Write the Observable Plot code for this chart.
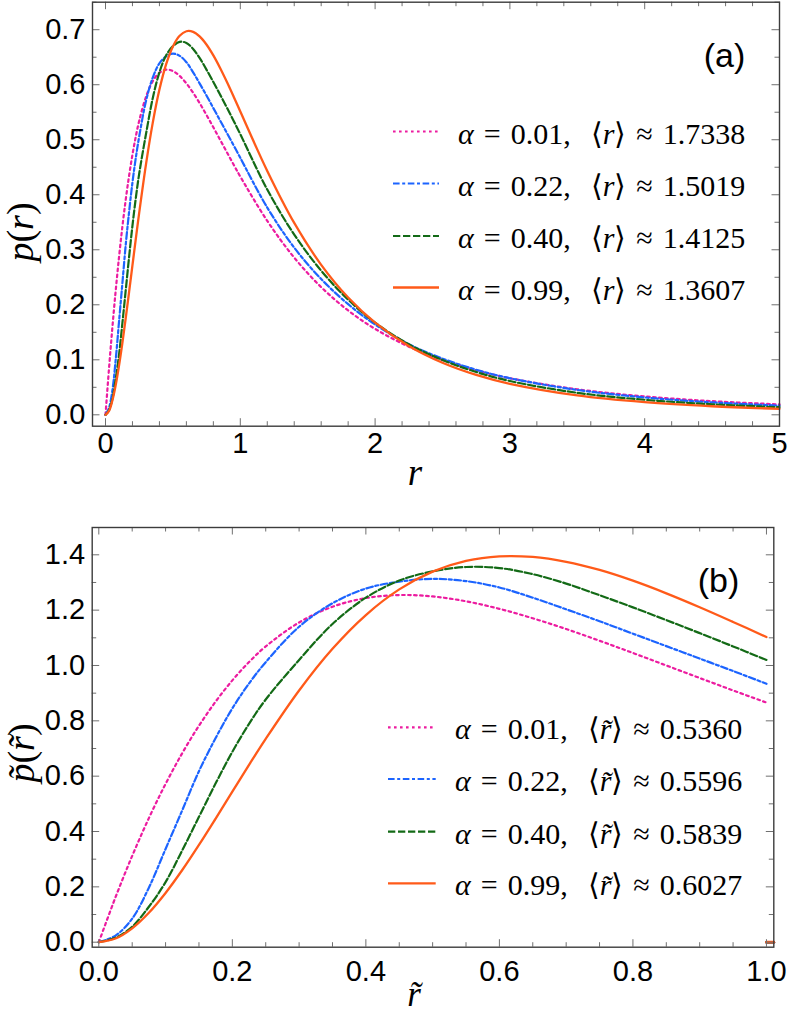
<!DOCTYPE html>
<html>
<head>
<meta charset="utf-8">
<script src="https://cdn.jsdelivr.net/npm/d3@7"></script>
<script src="https://cdn.jsdelivr.net/npm/@observablehq/plot@0.6"></script>
<style>
  html, body { margin: 0; padding: 0; background: #fff; }
  #wrap { position: relative; width: 789px; height: 1013px; overflow: hidden; }
  #wrap > .pnl { position: absolute; left: 0; }
  #overlay { position: absolute; left: 0; top: 0; pointer-events: none; }
</style>
</head>
<body>
<div id="wrap"></div>
<script>
// ---------------- data ----------------
const alphas = ["0.01", "0.22", "0.40", "0.99"];
const meanR = ["1.7338", "1.5019", "1.4125", "1.3607"];
const meanRt = ["0.5360", "0.5596", "0.5839", "0.6027"];

// panel (a): r grid and p(r) for each alpha
const rA = [0, 0.025, 0.05, 0.075, 0.1, 0.125, 0.15, 0.175, 0.2, 0.225, 0.25, 0.3, 0.35, 0.4, 0.45, 0.5, 0.55, 0.6, 0.65, 0.7, 0.75, 0.8, 0.85, 0.9, 0.95, 1.0, 1.2, 1.4, 1.6, 1.8, 2.0, 2.25, 2.5, 2.75, 3.0, 3.5, 4.0, 4.5, 5.0];
const pA_001 = [0, 0.0812, 0.1559, 0.2242, 0.2860, 0.3416, 0.3911, 0.4348, 0.4731, 0.5062, 0.5344, 0.5778, 0.6061, 0.6218, 0.6273, 0.6248, 0.6160, 0.6024, 0.5853, 0.5659, 0.5447, 0.5226, 0.5000, 0.4774, 0.4549, 0.4330, 0.3525, 0.2857, 0.2321, 0.1897, 0.1562, 0.1239, 0.0995, 0.0809, 0.0665, 0.0463, 0.0334, 0.0248, 0.0189];
const pA_022 = [0, 0.012, 0.0425, 0.0985, 0.1685, 0.2385, 0.309, 0.369, 0.4225, 0.4675, 0.506, 0.570, 0.6125, 0.639, 0.6515, 0.6565, 0.6525, 0.641, 0.6225, 0.6015, 0.580, 0.5575, 0.535, 0.5125, 0.490, 0.467, 0.3767, 0.3038, 0.2468, 0.2011, 0.1641, 0.1284, 0.1022, 0.0819, 0.0665, 0.0452, 0.0316, 0.0226, 0.0167];
const pA_040 = [0, 0.008, 0.028, 0.064, 0.1085, 0.166, 0.2265, 0.287, 0.344, 0.3945, 0.4385, 0.510, 0.575, 0.6225, 0.6535, 0.670, 0.678, 0.676, 0.665, 0.648, 0.627, 0.605, 0.582, 0.5585, 0.5345, 0.510, 0.4094, 0.3276, 0.2619, 0.2094, 0.1675, 0.1282, 0.0996, 0.0778, 0.0614, 0.0400, 0.0273, 0.0192, 0.0138];
const pA_099 = [0, 0.0066, 0.0251, 0.0532, 0.0890, 0.1304, 0.1758, 0.2234, 0.2720, 0.3204, 0.3674, 0.4549, 0.5302, 0.5912, 0.6375, 0.6696, 0.6890, 0.6972, 0.6961, 0.6873, 0.6726, 0.6532, 0.6304, 0.6053, 0.5787, 0.5514, 0.4433, 0.3488, 0.2726, 0.2131, 0.1674, 0.1250, 0.0946, 0.0725, 0.0563, 0.0352, 0.0230, 0.0156, 0.0109];

// panel (b): r~ grid and p~(r~) for each alpha
const rB = [0, 0.025, 0.05, 0.075, 0.1, 0.125, 0.15, 0.175, 0.2, 0.225, 0.25, 0.3, 0.35, 0.4, 0.45, 0.5, 0.55, 0.6, 0.65, 0.7, 0.75, 0.8, 0.85, 0.9, 0.95, 1.0];
const pB_001 = [0, 0.1624, 0.3118, 0.4484, 0.5720, 0.6832, 0.7822, 0.8696, 0.9462, 1.0124, 1.0688, 1.1556, 1.2122, 1.2436, 1.2546, 1.2496, 1.2320, 1.2048, 1.1706, 1.1318, 1.0894, 1.0452, 1.0000, 0.9548, 0.9098, 0.8660];
const pB_022 = [0, 0.024, 0.085, 0.197, 0.337, 0.477, 0.618, 0.738, 0.845, 0.935, 1.012, 1.140, 1.225, 1.278, 1.303, 1.313, 1.305, 1.282, 1.245, 1.203, 1.160, 1.115, 1.070, 1.025, 0.980, 0.934];
const pB_040 = [0, 0.016, 0.056, 0.128, 0.217, 0.332, 0.453, 0.574, 0.688, 0.789, 0.877, 1.020, 1.150, 1.245, 1.307, 1.340, 1.356, 1.352, 1.330, 1.296, 1.254, 1.210, 1.164, 1.117, 1.069, 1.020];
const pB_099 = [0, 0.0133, 0.0502, 0.1064, 0.1780, 0.2608, 0.3516, 0.4469, 0.5440, 0.6408, 0.7348, 0.9098, 1.0604, 1.1824, 1.2750, 1.3392, 1.3780, 1.3944, 1.3922, 1.3746, 1.3452, 1.3064, 1.2608, 1.2106, 1.1574, 1.1028];
// p~ is zero beyond r~ = 1 (visible as a short stub on the frame)
const tailX = [1.0, 1.011];
const tailY = [0, 0];

// ticks
const xMajorA = [0, 1, 2, 3, 4, 5];
const xMinorA = [0.2, 0.4, 0.6, 0.8, 1.2, 1.4, 1.6, 1.8, 2.2, 2.4, 2.6, 2.8, 3.2, 3.4, 3.6, 3.8, 4.2, 4.4, 4.6, 4.8];
const yMajorA = [0, 0.1, 0.2, 0.3, 0.4, 0.5, 0.6, 0.7];
const yMinorA = [0.05, 0.15, 0.25, 0.35, 0.45, 0.55, 0.65, 0.75];
const xMajorB = [0, 0.2, 0.4, 0.6, 0.8, 1.0];
const xMinorB = [0.05, 0.1, 0.15, 0.25, 0.3, 0.35, 0.45, 0.5, 0.55, 0.65, 0.7, 0.75, 0.85, 0.9, 0.95];
const yMajorB = [0, 0.2, 0.4, 0.6, 0.8, 1.0, 1.2, 1.4];
const yMinorB = [0.1, 0.3, 0.5, 0.7, 0.9, 1.1, 1.3];

// ---------------- styles ----------------
const colors = ["#ec1ca0", "#1c64ff", "#136a16", "#ff5a19"];
const dashes = ["2.6,3.4", "6.6,2.6,3,2.6", "7.3,2.7", null];
const widths = [2.2, 2.2, 2.2, 2.3];
const W = 789;
const tickColor = "#707070";
const frameColor = "#3c3c3c";
const sansFont = "'Liberation Sans', Arial, sans-serif";
const serifFont = "'Liberation Serif', 'Times New Roman', serif";

function seriesLines(xs, ysList) {
  return ysList.map((ys, i) => Plot.line(xs.map((x, j) => ({x, y: ys[j]})), {
    x: "x", y: "y", stroke: colors[i], strokeWidth: widths[i],
    strokeDasharray: dashes[i], curve: "catmull-rom"
  }));
}

function tickMarks(cfg, plotW, plotH) {
  const out = [];
  const spec = [[cfg.xMajor, 7.5], [cfg.xMinor, 4.5]];
  for (const [arr, len] of spec) {
    out.push(Plot.ruleX(arr, {x: d => d, insetTop: plotH - len, stroke: tickColor, strokeWidth: 1}));
    out.push(Plot.ruleX(arr, {x: d => d, insetBottom: plotH - len, stroke: tickColor, strokeWidth: 1}));
  }
  const specY = [[cfg.yMajor, 7.5], [cfg.yMinor, 4.5]];
  for (const [arr, len] of specY) {
    out.push(Plot.ruleY(arr, {y: d => d, insetRight: plotW - len, stroke: tickColor, strokeWidth: 1}));
    out.push(Plot.ruleY(arr, {y: d => d, insetLeft: plotW - len, stroke: tickColor, strokeWidth: 1}));
  }
  return out;
}

function panel(cfg) {
  const plotW = W - cfg.ml - cfg.mr;
  const plotH = cfg.h - cfg.mt - cfg.mb;
  return Plot.plot({
    width: W, height: cfg.h,
    marginTop: cfg.mt, marginBottom: cfg.mb, marginLeft: cfg.ml, marginRight: cfg.mr,
    x: {domain: cfg.xDomain},
    y: {domain: cfg.yDomain},
    style: {fontFamily: sansFont, background: "transparent", overflow: "visible"},
    marks: [
      ...seriesLines(cfg.xs, cfg.ys),
      ...(cfg.tails || []),
      ...tickMarks(cfg, plotW, plotH),
      Plot.frame({stroke: frameColor, strokeWidth: 1.4}),
      Plot.axisX(cfg.xMajor, {anchor: "bottom", tickSize: 0, tickPadding: cfg.xPad, fontSize: 29, fontFamily: sansFont, fill: "#000", label: null, tickFormat: cfg.xFmt}),
      Plot.axisY(cfg.yMajor, {anchor: "left", tickSize: 0, tickPadding: 7, fontSize: 29, fontFamily: sansFont, fill: "#000", label: null, tickFormat: d3.format(".1f")})
    ]
  });
}

const wrap = document.getElementById("wrap");

const svgA = panel({
  h: 490, mt: 1.7, mb: 64.3, ml: 92, mr: 10,
  xDomain: [-0.0965, 5], yDomain: [-0.0207, 0.75],
  xs: rA, ys: [pA_001, pA_022, pA_040, pA_099],
  xMajor: xMajorA, xMinor: xMinorA, yMajor: yMajorA, yMinor: yMinorA,
  xPad: 6, xFmt: d3.format("d")
});
svgA.classList.add("pnl");
svgA.style.top = "0px";
wrap.appendChild(svgA);

const tails = [0, 1, 2, 3].map(i => Plot.line(tailX.map((x, j) => ({x, y: tailY[j]})), {x: "x", y: "y", stroke: colors[i], strokeWidth: widths[i] + 0.4}));

const svgB = panel({
  h: 523, mt: 37, mb: 66.3, ml: 91.7, mr: 15.7,
  xDomain: [-0.0099, 1.011], yDomain: [-0.0181, 1.4987],
  xs: rB, ys: [pB_001, pB_022, pB_040, pB_099],
  tails,
  xMajor: xMajorB, xMinor: xMinorB, yMajor: yMajorB, yMinor: yMinorB,
  xPad: 13, xFmt: d3.format(".1f")
});
svgB.classList.add("pnl");
svgB.style.top = "490px";
wrap.appendChild(svgB);

// ---------------- overlay: axis labels, panel tags, legends ----------------
const ov = d3.select(wrap).append("svg")
  .attr("id", "overlay").attr("width", W).attr("height", 1013);

function richText(g, parts, attrs) {
  const t = g.append("text");
  for (const [k, v] of Object.entries(attrs)) t.attr(k, v);
  for (const p of parts) {
    const s = t.append("tspan").text(p.t);
    if (p.i) s.attr("font-style", "italic");
  }
  return t;
}

// y-axis labels
richText(ov, [{t: "p", i: true}, {t: "("}, {t: "r", i: true}, {t: ")"}], {
  transform: "translate(20,232) rotate(-90)", "text-anchor": "middle", "dominant-baseline": "central",
  "font-family": serifFont, "font-size": 38
});
richText(ov, [{t: "p\u0303", i: true}, {t: "("}, {t: "r\u0303", i: true}, {t: ")"}], {
  transform: "translate(21,753) rotate(-90)", "text-anchor": "middle", "dominant-baseline": "central",
  "font-family": serifFont, "font-size": 38
});
// x-axis labels
richText(ov, [{t: "r", i: true}], {x: 415, y: 472, "text-anchor": "middle", "dominant-baseline": "central", "font-family": serifFont, "font-size": 37});
richText(ov, [{t: "r\u0303", i: true}], {x: 414, y: 994, "text-anchor": "middle", "dominant-baseline": "central", "font-family": serifFont, "font-size": 35});

// panel tags
richText(ov, [{t: "(a)"}], {x: 724.5, y: 55, "text-anchor": "middle", "dominant-baseline": "central", "font-family": sansFont, "font-size": 34});
richText(ov, [{t: "(b)"}], {x: 718.5, y: 580, "text-anchor": "middle", "dominant-baseline": "central", "font-family": sansFont, "font-size": 34});

// legends
function legend(rows, x0, x1, tx, meanSym, vals) {
  rows.forEach((yc, i) => {
    ov.append("line").attr("x1", x0).attr("x2", x1).attr("y1", yc).attr("y2", yc)
      .attr("stroke", colors[i]).attr("stroke-width", widths[i])
      .attr("stroke-dasharray", dashes[i]);
    richText(ov, [
      {t: "\u03b1", i: true}, {t: " = " + alphas[i] + ",  \u27e8"}, {t: meanSym, i: true}, {t: "\u27e9 \u2248 " + vals[i]}
    ], {x: tx, y: yc + 1, "dominant-baseline": "central", "font-family": serifFont, "font-size": 30,
        "word-spacing": "2.5px", "xml:space": "preserve"});
  });
}
legend([131.5, 183.5, 236, 287.5], 393, 439, 458, "r", meanR);
legend([727.3, 779, 831.7, 883.3], 388, 435.7, 455, "r\u0303", meanRt);
</script>
</body>
</html>
